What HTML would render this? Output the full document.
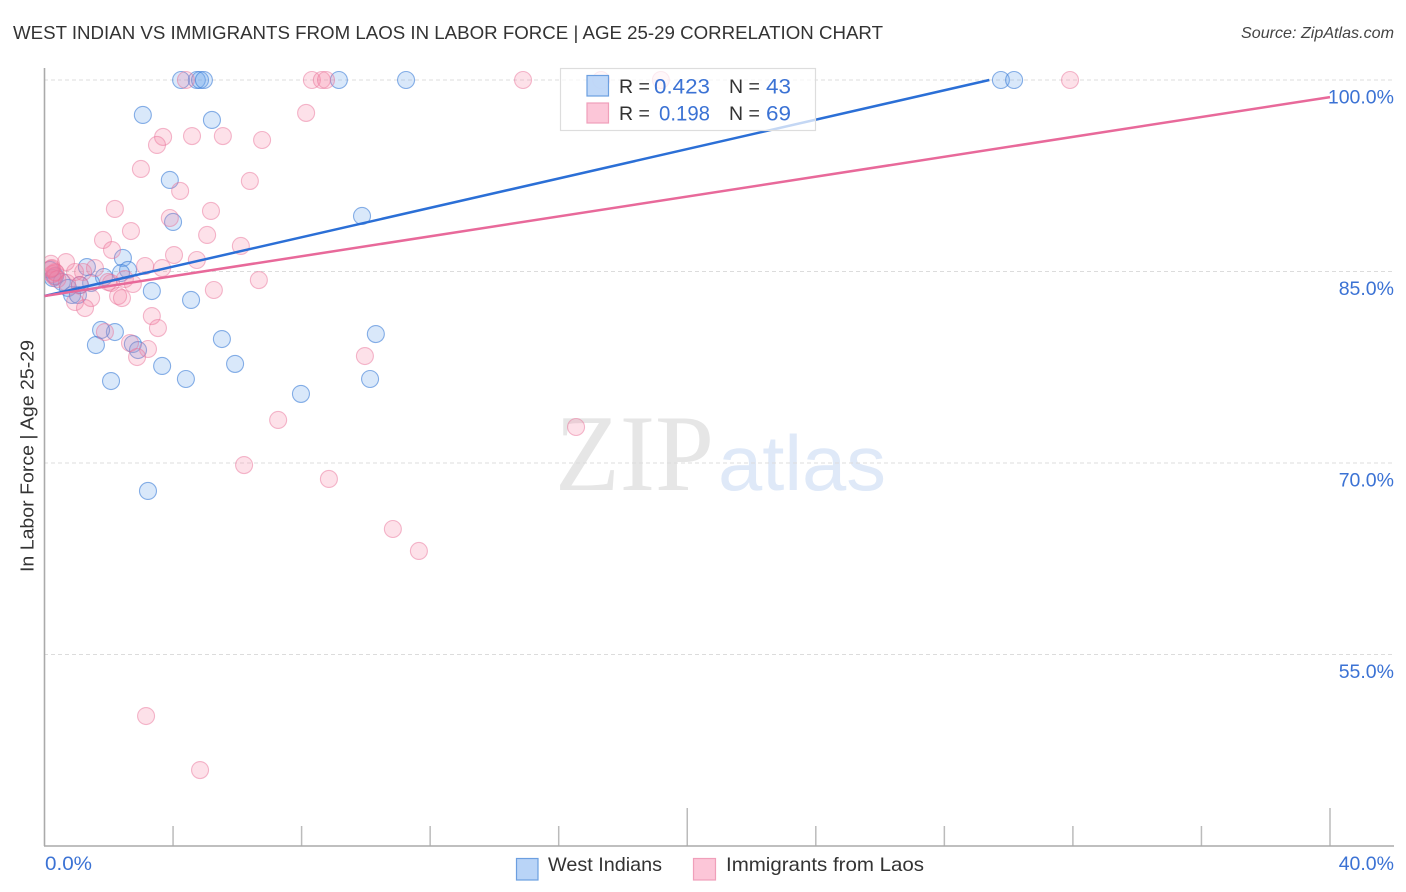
<!DOCTYPE html>
<html lang="en">
<head>
<meta charset="utf-8">
<title>West Indian vs Immigrants from Laos in Labor Force | Age 25-29 Correlation Chart</title>
<style>
html,body{margin:0;padding:0;background:#fff;width:1406px;height:892px;overflow:hidden}
svg{display:block}
text{font-family:"Liberation Sans",sans-serif}
</style>
</head>
<body>
<svg id="chart" width="1406" height="892" viewBox="0 0 1406 892" xmlns="http://www.w3.org/2000/svg">
  <defs>
    <clipPath id="plot-clip"><rect x="45" y="60" width="1349" height="786"/></clipPath>
  </defs>
  <text x="13" y="39" font-size="18.5" fill="#333" textLength="870" lengthAdjust="spacingAndGlyphs">WEST INDIAN VS IMMIGRANTS FROM LAOS IN LABOR FORCE | AGE 25-29 CORRELATION CHART</text>
  <text x="1241" y="38" font-size="16" font-style="italic" fill="#444" textLength="153" lengthAdjust="spacingAndGlyphs">Source: ZipAtlas.com</text>
  <text x="555" y="490" font-size="109" fill="#e6e6e6" textLength="159" lengthAdjust="spacingAndGlyphs" style="font-family:'Liberation Serif',serif">ZIP</text>
  <text x="718" y="490" font-size="78" fill="#dfe9f8" textLength="168" lengthAdjust="spacingAndGlyphs">atlas</text>
  <g id="grid"></g>
  <g id="ticks"></g>
  <line x1="44.5" y1="68" x2="44.5" y2="846" stroke="#aaa" stroke-width="1.6"/>
  <line x1="44" y1="846" x2="1394" y2="846" stroke="#aaa" stroke-width="1.6"/>
  <g id="points-west" clip-path="url(#plot-clip)"></g>
  <g id="points-laos" clip-path="url(#plot-clip)"></g>
  <g id="trends"></g>
  <g id="ylabels"></g>
  <text transform="translate(33.5,456) rotate(-90)" font-size="18.5" fill="#333" text-anchor="middle" textLength="232" lengthAdjust="spacingAndGlyphs">In Labor Force | Age 25-29</text>
  <text x="45" y="870" font-size="19.5" fill="#3b72d4" textLength="47" lengthAdjust="spacingAndGlyphs">0.0%</text>
  <text x="1394" y="870" font-size="19.5" fill="#3b72d4" text-anchor="end">40.0%</text>

  <g>
    <rect x="560.5" y="68.5" width="255" height="62" fill="#fff" fill-opacity="0.72" stroke="#ddd" stroke-width="1.2"/>
    <rect x="587" y="75.5" width="21.5" height="20.5" fill="#b9d4f7" fill-opacity="0.9" stroke="#6c9fe0" stroke-width="1.2"/>
    <rect x="587" y="103" width="21.5" height="20" fill="#fcc6d8" stroke="#f09fba" stroke-width="1.2"/>
    <text x="619" y="93" font-size="19.5" fill="#333">R =</text>
    <text x="654" y="93.5" font-size="21" fill="#3b72d4" textLength="56" lengthAdjust="spacingAndGlyphs">0.423</text>
    <text x="729" y="93" font-size="19.5" fill="#333">N =</text>
    <text x="766" y="93.5" font-size="21" fill="#3b72d4" textLength="25" lengthAdjust="spacingAndGlyphs">43</text>
    <text x="619" y="120" font-size="19.5" fill="#333">R =</text>
    <text x="659" y="120.5" font-size="21" fill="#3b72d4" textLength="51" lengthAdjust="spacingAndGlyphs">0.198</text>
    <text x="729" y="120" font-size="19.5" fill="#333">N =</text>
    <text x="766" y="120.5" font-size="21" fill="#3b72d4" textLength="25" lengthAdjust="spacingAndGlyphs">69</text>
  </g>

  <g>
    <rect x="516.5" y="858.5" width="21.5" height="21.5" fill="#b9d4f7" stroke="#6c9fe0" stroke-width="1.2"/>
    <text x="548" y="871" font-size="19.5" fill="#333" textLength="114" lengthAdjust="spacingAndGlyphs">West Indians</text>
    <rect x="693.5" y="858.5" width="22" height="21.5" fill="#fcc6d8" stroke="#f09fba" stroke-width="1.2"/>
    <text x="726" y="871" font-size="19.5" fill="#333" textLength="198" lengthAdjust="spacingAndGlyphs">Immigrants from Laos</text>
  </g>
</svg>
<script>
const yTicks = [100, 85, 70, 55];
const yTickLabels = ["100.0%", "85.0%", "70.0%", "55.0%"];
const xTicks = [4, 8, 12, 16, 20, 24, 28, 32, 36, 40];
const xMajorTicks = [20, 40];

const westX = [4.25,4.74,4.84,4.96,9.16,11.25,29.76,30.17,3.06,5.21,3.90,4.00,9.88,2.44,2.60,2.38,1.32,1.85,1.45,3.34,4.56,5.52,2.19,1.76,1.60,2.75,2.91,3.66,5.93,2.07,4.40,7.98,10.13,10.31,3.22,0.17,0.26,0.33,0.54,0.73,0.86,1.04,1.10];
const westY = [100,100,100,100,100,100,100,100,97.26,96.87,92.17,88.88,89.35,86.06,85.12,84.88,85.35,84.57,84.10,83.47,82.77,79.71,80.26,80.42,79.24,79.32,78.85,77.60,77.76,76.42,76.58,75.41,76.58,80.10,67.81,85.12,84.49,84.65,84.18,83.71,83.16,83.16,83.94];

const laosX = [4.40,8.32,8.63,8.76,14.89,17.32,19.18,31.91,8.14,3.69,4.59,5.55,6.77,3.50,3.00,6.39,4.22,2.19,5.18,3.90,5.06,1.82,2.69,6.11,2.10,4.03,4.74,3.13,3.66,6.67,5.27,2.75,2.50,2.07,1.57,1.20,0.95,0.67,0.35,0.20,0.30,0.25,0.33,1.45,2.29,2.41,0.95,1.26,3.34,3.53,1.88,2.66,3.22,2.88,9.97,7.27,16.54,6.21,8.85,10.84,11.65,3.16,4.84,1.10,1.98,0.23,0.40,0.20,0.70];
const laosY = [100,100,100,100,100,100,100,100,97.42,95.54,95.61,95.61,95.30,94.91,93.03,92.09,91.31,89.90,89.74,89.19,87.86,87.47,88.17,87.00,86.68,86.29,85.90,85.43,85.27,84.33,83.55,84.02,84.41,84.10,85.27,84.96,84.96,85.74,84.90,85.60,84.60,84.80,84.96,82.92,83.08,82.92,82.61,82.14,81.51,80.57,80.26,79.40,78.93,78.30,78.38,73.37,72.82,69.84,68.75,64.83,63.11,50.18,45.95,83.94,84.18,85.27,84.40,85.20,84.10];

const westTrendX = [0, 29.4];
const westTrendY = [83.08, 100];
const laosTrendX = [0, 40];
const laosTrendY = [83.08, 98.66];

function xScale(v) { return 44.5 + v * (1330 - 44.5) / 40; }
function yScale(v) { return 80 + (100 - v) * (271.5 - 80) / 15; }
const NS = "http://www.w3.org/2000/svg";

const gridG = document.getElementById("grid");
const yLabelG = document.getElementById("ylabels");
yTicks.forEach(function (t, i) {
  const ln = document.createElementNS(NS, "line");
  
  
  ln.setAttribute("x1", 44);
  ln.setAttribute("x2", 1394);
  ln.setAttribute("y1", yScale(t));
  ln.setAttribute("y2", yScale(t));
  ln.setAttribute("stroke", "#dcdcdc");
  ln.setAttribute("stroke-width", "1");
  ln.setAttribute("stroke-dasharray", "4 3");
  gridG.appendChild(ln);
  const tx = document.createElementNS(NS, "text");
  
  
  tx.setAttribute("x", 1394);
  tx.setAttribute("y", yScale(t) + 23.5);
  tx.setAttribute("font-size", "19.5");
  tx.setAttribute("fill", "#3b72d4");
  tx.setAttribute("text-anchor", "end");
  tx.textContent = yTickLabels[i];
  yLabelG.appendChild(tx);
});

const tickG = document.getElementById("ticks");
xTicks.forEach(function (t) {
  const ln = document.createElementNS(NS, "line");
  
  
  ln.setAttribute("x1", xScale(t));
  ln.setAttribute("x2", xScale(t));
  ln.setAttribute("y1", xMajorTicks.indexOf(t) >= 0 ? 808 : 826);
  ln.setAttribute("y2", 846);
  ln.setAttribute("stroke", "#bbb");
  ln.setAttribute("stroke-width", "1.5");
  tickG.appendChild(ln);
});

function drawPoints(groupId, xs, ys, fill, stroke) {
  const g = document.getElementById(groupId);
  xs.forEach(function (x, i) {
    const c = document.createElementNS(NS, "circle");
    
    
    c.setAttribute("cx", xScale(x));
    c.setAttribute("cy", yScale(ys[i]));
    c.setAttribute("r", "8.5");
    c.setAttribute("fill", fill);
    c.setAttribute("stroke", stroke);
    c.setAttribute("stroke-width", "1.1");
    g.appendChild(c);
  });
}
drawPoints("points-west", westX, westY, "rgba(110,165,235,0.26)", "rgba(60,125,215,0.6)");
drawPoints("points-laos", laosX, laosY, "rgba(245,130,165,0.24)", "rgba(232,110,150,0.48)");

function drawTrend(xs, ys, color, name) {
  const ln = document.createElementNS(NS, "line");
  
  
  ln.setAttribute("x1", xScale(xs[0]));
  ln.setAttribute("y1", yScale(ys[0]));
  ln.setAttribute("x2", xScale(xs[1]));
  ln.setAttribute("y2", yScale(ys[1]));
  ln.setAttribute("stroke", color);
  ln.setAttribute("stroke-width", "2.5");
  document.getElementById("trends").appendChild(ln);
}
drawTrend(westTrendX, westTrendY, "#2b6fd6", "west-indians-trend-line");
drawTrend(laosTrendX, laosTrendY, "#e8699a", "laos-trend-line");
</script>
</body>
</html>
